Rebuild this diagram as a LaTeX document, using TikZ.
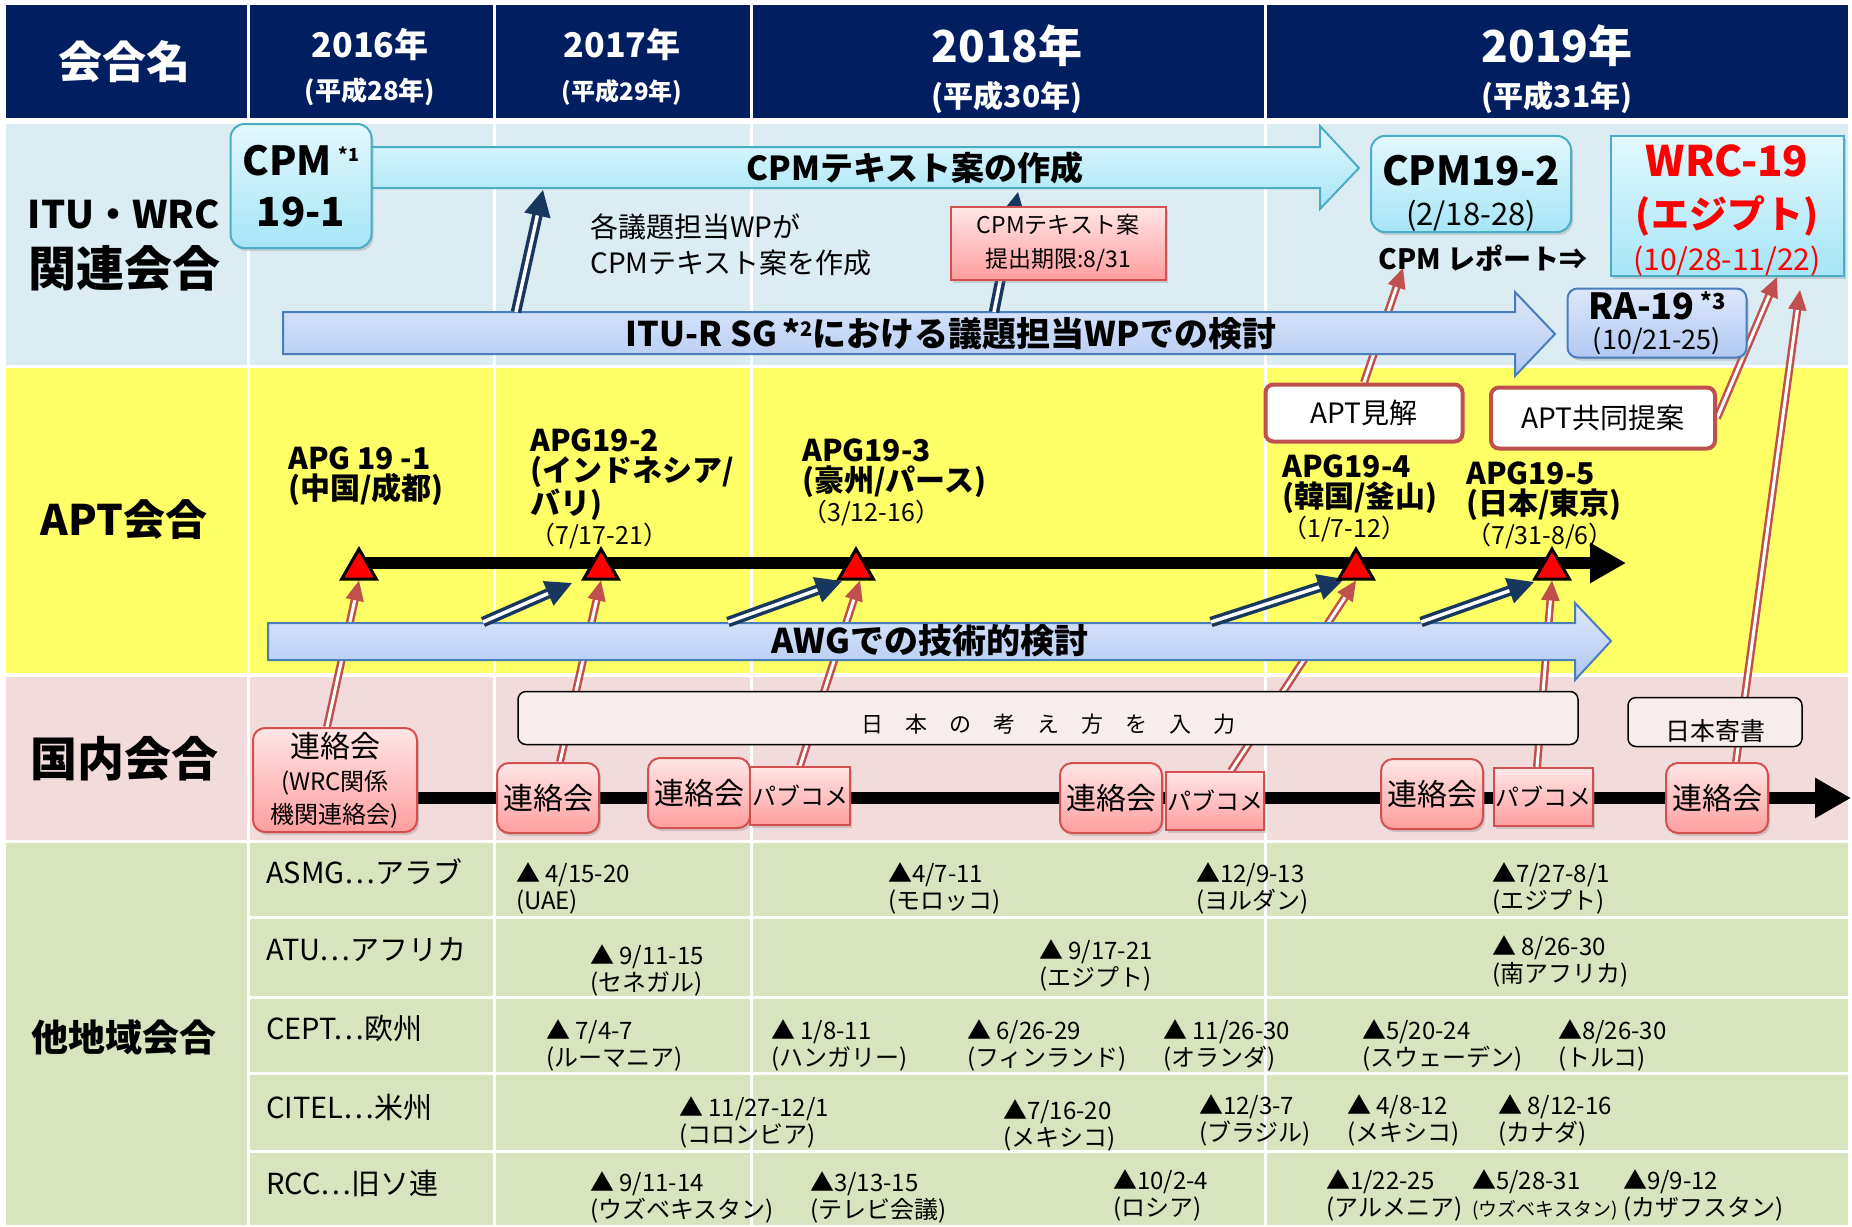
\documentclass[tikz,border=0pt]{standalone}
\usepackage{fontspec}
\setmainfont{Noto Sans CJK JP}
\usetikzlibrary{arrows.meta,shapes.geometric,shadows}

\definecolor{hdrblue}{RGB}{0,30,96}
\definecolor{itubg}{RGB}{219,236,242}
\definecolor{aptbg}{RGB}{255,255,102}
\definecolor{dombg}{RGB}{242,220,219}
\definecolor{othbg}{RGB}{215,228,189}
\definecolor{navyarrow}{RGB}{23,55,94}
\definecolor{redarrow}{RGB}{192,80,77}
\definecolor{cyantop}{RGB}{226,248,253}
\definecolor{cyanbot}{RGB}{166,229,247}
\definecolor{cyanedge}{RGB}{75,172,198}
\definecolor{bluetop}{RGB}{222,232,251}
\definecolor{bluebot}{RGB}{176,200,242}
\definecolor{blueedge}{RGB}{74,126,187}
\definecolor{pinktop}{RGB}{255,230,230}
\definecolor{pinkbot}{RGB}{255,158,158}
\definecolor{pinkedge}{RGB}{210,80,80}
\definecolor{wrcred}{RGB}{255,0,0}

\pgfdeclarelayer{rows}
\pgfdeclarelayer{links}
\pgfsetlayers{rows,links,main}

\begin{document}
\begin{tikzpicture}[x=1pt, y=-1pt,
   cell_line/.style={draw=white, line width=3pt},
   hdr_text/.style={text=white, align=center, inner sep=0pt},
   lbl_text/.style={align=center, inner sep=0pt},
   apg_text/.style={align=left, inner sep=0pt, anchor=west, font=\fontsize{30}{30}\selectfont\bfseries},
   evt_text/.style={align=left, inner sep=0pt, anchor=west, font=\fontsize{24}{27}\selectfont},
   org_text/.style={inner sep=0pt, anchor=west, font=\fontsize{29}{29}\selectfont},
   blk_cyan/.style={draw=cyanedge, line width=2pt, top color=cyantop, bottom color=cyanbot},
   blk_blue/.style={draw=blueedge, line width=2pt, top color=bluetop, bottom color=bluebot},
   box_shadow/.style={drop shadow={opacity=0.3, shadow xshift=2pt, shadow yshift=-3pt}},
   box_cyan/.style={box_shadow, draw=cyanedge, line width=2pt, top color=cyantop, bottom color=cyanbot, rounded corners=14pt, align=center, inner sep=0pt},
   box_blue/.style={box_cyan, draw=blueedge, top color=bluetop, bottom color=bluebot},
   box_pink/.style={box_shadow, draw=pinkedge, line width=2pt, top color=pinktop, bottom color=pinkbot, rounded corners=12pt, align=center, inner sep=0pt},
   box_apt/.style={draw=redarrow, line width=4pt, fill=white, rounded corners=8pt, inner sep=0pt, font=\fontsize{28}{28}\selectfont},
   box_plain/.style={draw=black, line width=1.5pt, fill=dombg!50!white, rounded corners=8pt, inner sep=0pt},
   apg_tri/.style={regular polygon, regular polygon sides=3, draw=black, line width=3pt, fill=red, minimum size=40pt, inner sep=0pt},
   nav_arrow/.style={draw=navyarrow, line width=3.5pt, double=white, double distance=3.5pt, -{Triangle[length=26pt,width=26pt]}},
   red_arrow/.style={draw=redarrow, line width=2.5pt, double=white, double distance=3pt, -{Triangle[length=20pt,width=18pt]}},
   time_line/.style={draw=black, line width=12pt, -{Triangle[length=36pt,width=38pt]}}]

   % rows and grid
   \begin{pgfonlayer}{rows}
   \fill[white] (0,0) rectangle (1852,1225);
   \fill[hdrblue] (6,5) rectangle (1848,118);
   \fill[itubg] (6,124) rectangle (1848,365);
   \fill[aptbg] (6,368) rectangle (1848,673);
   \fill[dombg] (6,677) rectangle (1848,840);
   \fill[othbg] (6,843) rectangle (1848,1225);
   \foreach \x in {248,494,751,1265}
      \draw[cell_line] (\x,5) -- (\x,1225);
   \foreach \y in {917,997,1073,1151}
      \draw[cell_line] (248,\y) -- (1848,\y);
   \end{pgfonlayer}
   \useasboundingbox (0,0) rectangle (1852,1225);

   % header
   \node[hdr_text, font=\fontsize{44}{44}\selectfont\bfseries] (hname) at (124,62) {会合名};
   \node[hdr_text, font=\fontsize{26}{43}\selectfont\bfseries] (h2016) at (370,67) {{\fontsize{34}{43}\selectfont 2016年}\\(平成28年)};
   \node[hdr_text, font=\fontsize{24}{43}\selectfont\bfseries] (h2017) at (622,67) {{\fontsize{34}{43}\selectfont 2017年}\\(平成29年)};
   \node[hdr_text, font=\fontsize{30}{45}\selectfont\bfseries] (h2018) at (1007,69) {{\fontsize{44}{45}\selectfont 2018年}\\(平成30年)};
   \node[hdr_text, font=\fontsize{30}{45}\selectfont\bfseries] (h2019) at (1557,69) {{\fontsize{44}{45}\selectfont 2019年}\\(平成31年)};

   % row labels
   \node[lbl_text, font=\fontsize{48}{58}\selectfont\bfseries] (ituwrc) at (124,245) {{\fontsize{38}{58}\selectfont ITU・WRC}\\関連会合};
   \node[lbl_text, font=\fontsize{42}{42}\selectfont\bfseries] (aptlbl) at (124,520) {APT会合};
   \node[lbl_text, font=\fontsize{47}{47}\selectfont\bfseries] (domlbl) at (124,759) {国内会合};
   \node[lbl_text, font=\fontsize{37}{37}\selectfont\bfseries] (othlbl) at (124,1037) {他地域会合};

   % ITU row
   \path[blk_cyan] (360,147) -- (1320,147) -- (1320,126) -- (1359,168) -- (1320,209) -- (1320,188) -- (360,188) -- cycle;
   \node[lbl_text, font=\fontsize{33}{33}\selectfont\bfseries] (cpmtxt) at (915,168) {CPMテキスト案の作成};
   \path[blk_blue] (283,312) -- (1515,312) -- (1515,292) -- (1555,334) -- (1515,376) -- (1515,354) -- (283,354) -- cycle;
   \node[lbl_text, font=\fontsize{34}{34}\selectfont\bfseries] (sgtxt) at (951,334) {ITU-R SG\,*\raisebox{10pt}{\fontsize{20}{20}\selectfont 2}における議題担当WPでの検討};

   \coordinate (sg_up1) at (516,312);
   \coordinate (cpm_dn1) at (543,190);
   \coordinate (sg_up2) at (994,312);
   \coordinate (cpm_dn2) at (1018,192);
   \draw[nav_arrow] (sg_up1) -- (cpm_dn1);
   \draw[nav_arrow] (sg_up2) -- (cpm_dn2);

   \node[box_cyan, minimum width=141pt, minimum height=124pt, font=\fontsize{40}{51}\selectfont\bfseries] (cpm1) at (301,186) {CPM\,\raisebox{14pt}{\fontsize{18}{18}\selectfont *1}\\19-1};
   \node[lbl_text, align=left, anchor=west, font=\fontsize{28}{36}\selectfont] (wptxt) at (590,245) {各議題担当WPが\\CPMテキスト案を作成};
   \node[box_pink, sharp corners, minimum width=215pt, minimum height=73pt, font=\fontsize{23}{34}\selectfont] (cpmdl) at (1058,243) {CPMテキスト案\\提出期限:8/31};
   \node[box_cyan, minimum width=200pt, minimum height=95pt, font=\fontsize{31}{40}\selectfont] (cpm2) at (1471,184) {\rule{0pt}{50pt}{\fontsize{40}{40}\selectfont\bfseries CPM19-2}\\(2/18-28)};
   \node[lbl_text, font=\fontsize{28}{28}\selectfont\bfseries] (cpmrep) at (1483,258) {CPM レポート⇒};
   \node[box_cyan, sharp corners, minimum width=233pt, minimum height=140pt, text=wrcred, font=\fontsize{30}{48}\selectfont] (wrc) at (1727,206) {\rule{0pt}{40pt}{\fontsize{42}{48}\selectfont\bfseries WRC-19}\\[4pt]{\fontsize{38}{48}\selectfont\bfseries (エジプト)}\\[-6pt](10/28-11/22)};
   \node[box_blue, rounded corners=10pt, minimum width=179pt, minimum height=69pt, font=\fontsize{27}{30}\selectfont] (ra19) at (1657,323) {{\fontsize{36}{30}\selectfont\bfseries RA-19\,\raisebox{10pt}{\fontsize{22}{22}\selectfont *3}}\\(10/21-25)};

   % APT row
   \path[blk_blue] (268,623) -- (1575,623) -- (1575,603) -- (1611,641) -- (1575,680) -- (1575,660) -- (268,660) -- cycle;
   \node[lbl_text, font=\fontsize{34}{34}\selectfont\bfseries] (awgtxt) at (930,641) {AWGでの技術的検討};

   \coordinate (awg_up1) at (483,622);
   \coordinate (apg_in1) at (572,583);
   \coordinate (awg_up2) at (728,622);
   \coordinate (apg_in2) at (842,581);
   \coordinate (awg_up3) at (1211,622);
   \coordinate (apg_in3) at (1344,579);
   \coordinate (awg_up4) at (1421,622);
   \coordinate (apg_in4) at (1534,582);
   \draw[nav_arrow] (awg_up1) -- (apg_in1);
   \draw[nav_arrow] (awg_up2) -- (apg_in2);
   \draw[nav_arrow] (awg_up3) -- (apg_in3);
   \draw[nav_arrow] (awg_up4) -- (apg_in4);

   \node[apg_tri] (tri1) at (359,569) {};
   \node[apg_tri] (tri2) at (601,569) {};
   \node[apg_tri] (tri3) at (856,569) {};
   \node[apg_tri] (tri4) at (1356,569) {};
   \node[apg_tri] (tri5) at (1552,569) {};

   \node[apg_text] (apg1) at (288,476) {APG 19 -1\\(中国/成都)};
   \node[apg_text] (apg2) at (530,489) {APG19-2\\(インドネシア/\\バリ)\\{\fontsize{25}{30}\selectfont\mdseries （7/17-21）}};
   \node[apg_text] (apg3) at (802,482) {APG19-3\\(豪州/パース)\\{\fontsize{25}{30}\selectfont\mdseries （3/12-16）}};
   \node[apg_text] (apg4) at (1282,498) {APG19-4\\(韓国/釜山)\\{\fontsize{25}{30}\selectfont\mdseries （1/7-12）}};
   \node[apg_text] (apg5) at (1466,505) {APG19-5\\(日本/東京)\\{\fontsize{25}{30}\selectfont\mdseries （7/31-8/6）}};

   \node[box_apt, minimum width=197pt, minimum height=57pt] (aptv) at (1364,413) {APT見解};
   \node[box_apt, minimum width=224pt, minimum height=61pt] (aptp) at (1603,418) {APT共同提案};

   % domestic row
   \node[box_plain, minimum width=1060pt, minimum height=53pt, text height=28pt, text depth=0pt, font=\fontsize{22}{22}\selectfont] (jpin) at (1048,718) {日　本　の　考　え　方　を　入　力};
   \node[box_plain, minimum width=174pt, minimum height=49pt, text height=36pt, text depth=0pt, font=\fontsize{25}{25}\selectfont] (jpdoc) at (1715,722) {日本寄書};

   \node[box_pink, minimum width=164pt, minimum height=104pt, font=\fontsize{24}{33}\selectfont] (lk1) at (335,780) {{\fontsize{30}{33}\selectfont 連絡会}\\(WRC関係\\機関連絡会)};
   \node[box_pink, minimum width=102pt, minimum height=70pt, font=\fontsize{30}{30}\selectfont] (lk2) at (548,798) {連絡会};
   \node[box_pink, minimum width=102pt, minimum height=70pt, font=\fontsize{30}{30}\selectfont] (lk3) at (699,793) {連絡会};
   \node[box_pink, sharp corners, minimum width=100pt, minimum height=58pt, font=\fontsize{24}{24}\selectfont] (pc1) at (800,796) {パブコメ};
   \node[box_pink, minimum width=102pt, minimum height=70pt, font=\fontsize{30}{30}\selectfont] (lk4) at (1111,798) {連絡会};
   \node[box_pink, sharp corners, minimum width=98pt, minimum height=58pt, font=\fontsize{24}{24}\selectfont] (pc2) at (1215,801) {パブコメ};
   \node[box_pink, minimum width=102pt, minimum height=70pt, font=\fontsize{30}{30}\selectfont] (lk5) at (1432,794) {連絡会};
   \node[box_pink, sharp corners, minimum width=99pt, minimum height=58pt, font=\fontsize{24}{24}\selectfont] (pc3) at (1543,797) {パブコメ};
   \node[box_pink, minimum width=102pt, minimum height=70pt, font=\fontsize{30}{30}\selectfont] (lk6) at (1717,798) {連絡会};

   % links and time lines
   \coordinate (apt_end) at (1626,563);
   \coordinate (dom_end) at (1851,798);
   \coordinate (rep_in) at (1403,268);
   \coordinate (wrc_in) at (1800,290);
   \begin{pgfonlayer}{links}
   \draw[time_line] (tri1.center |- apt_end) -- (apt_end);
   \draw[time_line] (lk1.east |- dom_end) -- (dom_end);
   \draw[red_arrow] ([xshift=-8pt]lk1.north) -- (tri1.south);
   \draw[red_arrow] ([xshift=12pt]lk2.north) -- (tri2.south);
   \draw[red_arrow] (pc1.north) -- ([xshift=4pt]tri3.south);
   \draw[red_arrow] ([xshift=16pt]pc2.north) -- (tri4.south);
   \draw[red_arrow] ([xshift=-6pt]pc3.north) -- (tri5.south);
   \draw[red_arrow] (aptv.north) -- (rep_in);
   \draw[red_arrow] (aptp.east) -- ([xshift=50pt]wrc.south);
   \draw[red_arrow] ([xshift=19pt]lk6.north) -- (wrc_in);
   \end{pgfonlayer}

   % other regions
   \node[org_text] (asmg) at (266,872) {ASMG…アラブ};
   \node[org_text] (atu) at (266,950) {ATU…アフリカ};
   \node[org_text] (cept) at (266,1028) {CEPT…欧州};
   \node[org_text] (citel) at (266,1107) {CITEL…米州};
   \node[org_text] (rcc) at (266,1183) {RCC…旧ソ連};

   \node[evt_text] (asmg1) at (516,888) {▲ 4/15-20\\(UAE)};
   \node[evt_text] (asmg2) at (888,888) {▲4/7-11\\(モロッコ)};
   \node[evt_text] (asmg3) at (1196,888) {▲12/9-13\\(ヨルダン)};
   \node[evt_text] (asmg4) at (1492,888) {▲7/27-8/1\\(エジプト)};
   \node[evt_text] (atu1) at (590,970) {▲ 9/11-15\\(セネガル)};
   \node[evt_text] (atu2) at (1039,965) {▲ 9/17-21\\(エジプト)};
   \node[evt_text] (atu3) at (1492,961) {▲ 8/26-30\\(南アフリカ)};
   \node[evt_text] (cept1) at (546,1045) {▲ 7/4-7\\(ルーマニア)};
   \node[evt_text] (cept2) at (771,1045) {▲ 1/8-11\\(ハンガリー)};
   \node[evt_text] (cept3) at (967,1045) {▲ 6/26-29\\(フィンランド)};
   \node[evt_text] (cept4) at (1163,1045) {▲ 11/26-30\\(オランダ)};
   \node[evt_text] (cept5) at (1362,1045) {▲5/20-24\\(スウェーデン)};
   \node[evt_text] (cept6) at (1558,1045) {▲8/26-30\\(トルコ)};
   \node[evt_text] (citel1) at (679,1122) {▲ 11/27-12/1\\(コロンビア)};
   \node[evt_text] (citel2) at (1003,1125) {▲7/16-20\\(メキシコ)};
   \node[evt_text] (citel3) at (1199,1120) {▲12/3-7\\(ブラジル)};
   \node[evt_text] (citel4) at (1347,1120) {▲ 4/8-12\\(メキシコ)};
   \node[evt_text] (citel5) at (1498,1120) {▲ 8/12-16\\(カナダ)};
   \node[evt_text] (rcc1) at (590,1197) {▲ 9/11-14\\(ウズベキスタン)};
   \node[evt_text] (rcc2) at (810,1197) {▲3/13-15\\(テレビ会議)};
   \node[evt_text] (rcc3) at (1113,1195) {▲10/2-4\\(ロシア)};
   \node[evt_text] (rcc4) at (1326,1195) {▲1/22-25\\(アルメニア)};
   \node[evt_text] (rcc5) at (1472,1195) {▲5/28-31\\{\fontsize{19}{27}\selectfont (ウズベキスタン)}};
   \node[evt_text] (rcc6) at (1623,1195) {▲9/9-12\\(カザフスタン)};
\end{tikzpicture}
\end{document}
